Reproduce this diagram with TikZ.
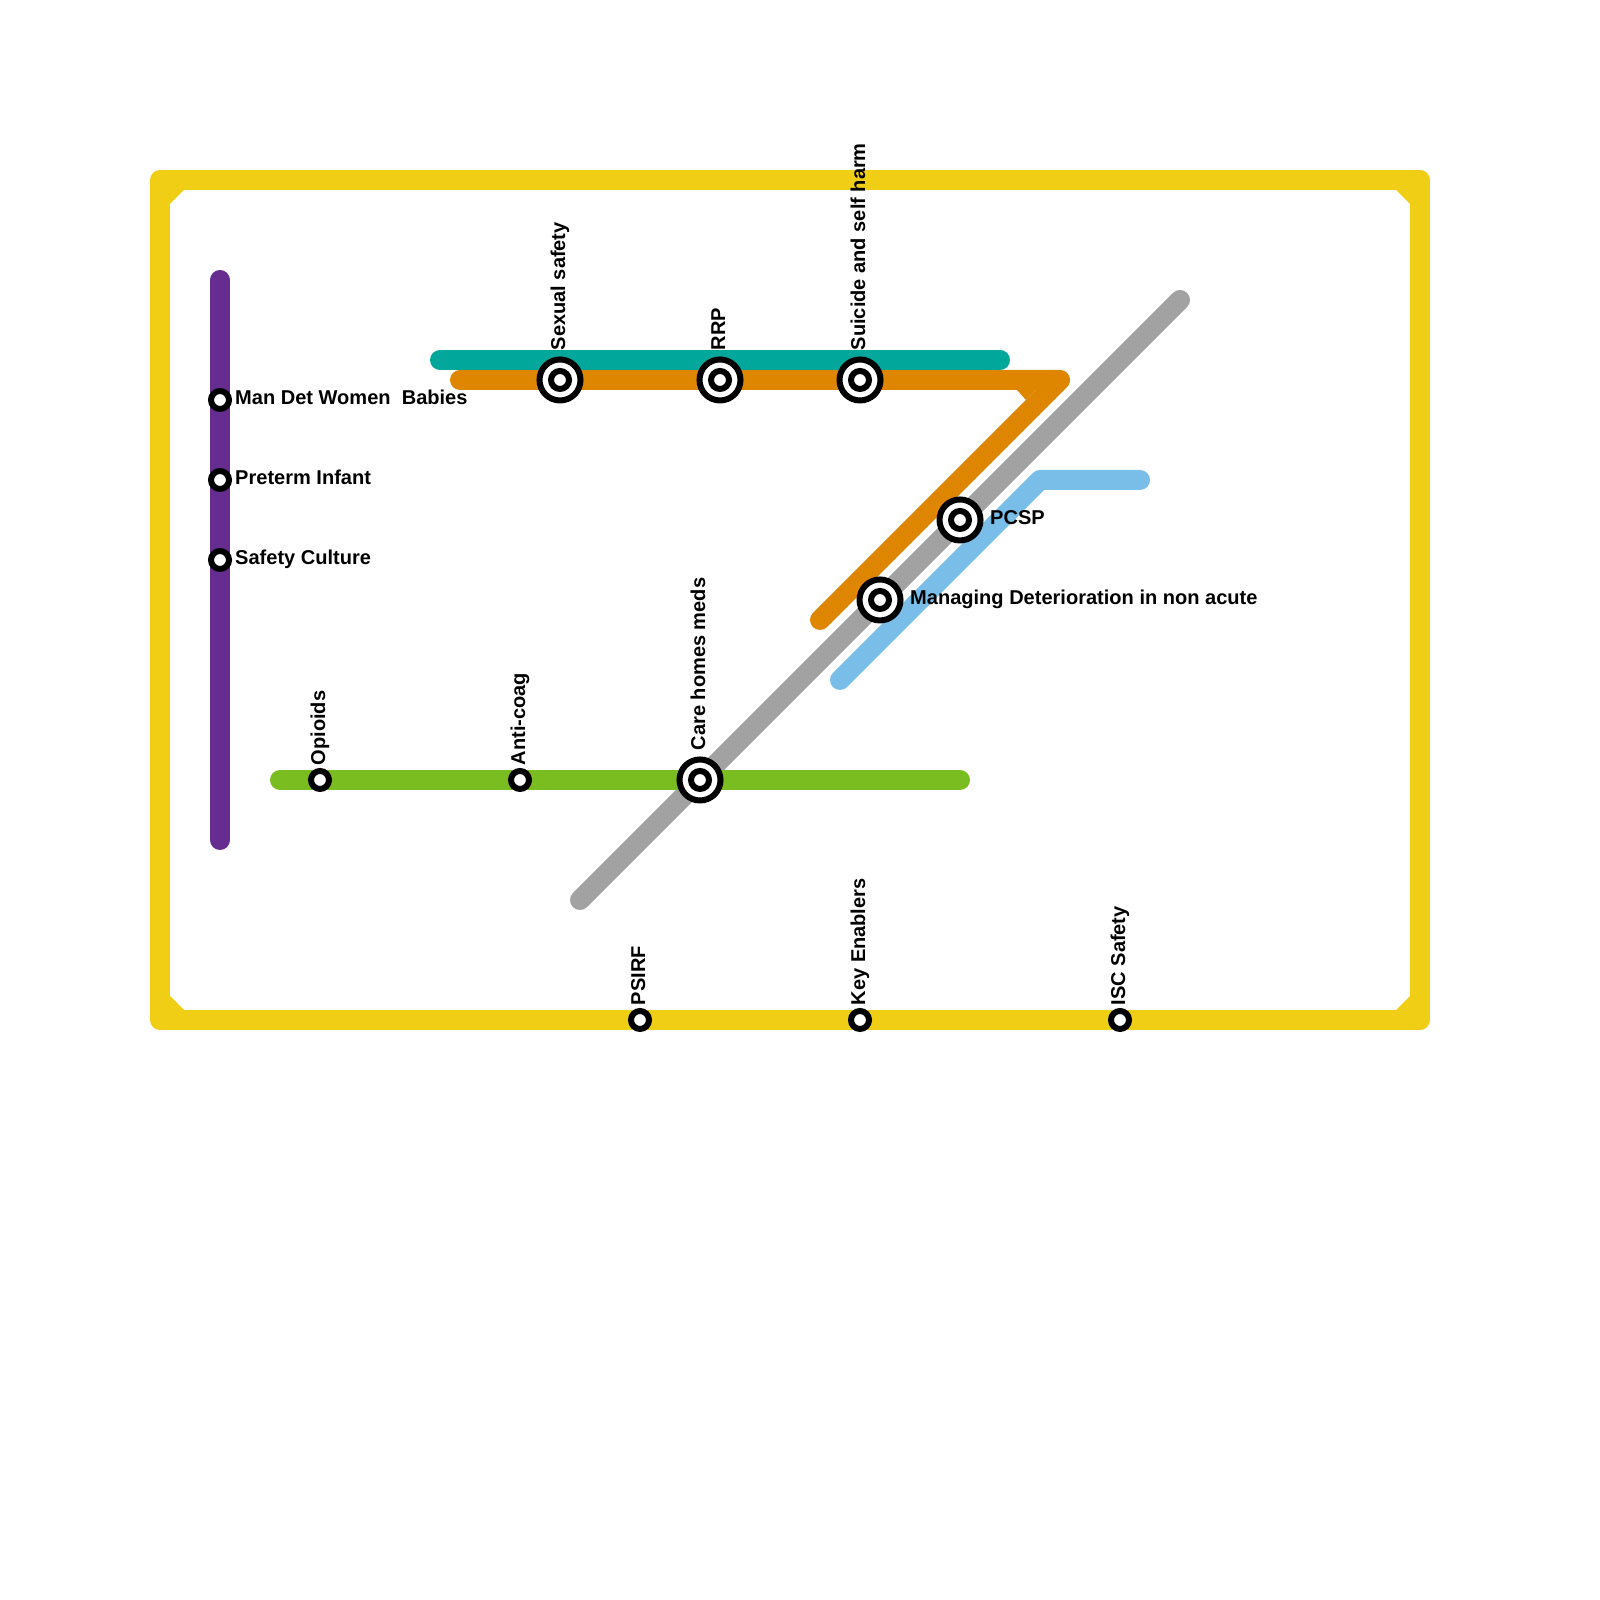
\documentclass[tikz,border=0pt]{standalone}
\usepackage{fontspec}
\setmainfont{Liberation Sans}
\definecolor{lineyellow}{HTML}{F0CE15}
\definecolor{linepurple}{HTML}{662C90}
\definecolor{lineteal}{HTML}{00A79A}
\definecolor{lineorange}{HTML}{DF8600}
\definecolor{linesilver}{HTML}{A2A2A2}
\definecolor{lineblue}{HTML}{79BDE9}
\definecolor{linegreen}{HTML}{7ABD20}
\begin{document}
\begin{tikzpicture}[font=\fontsize{5.7pt}{6.8pt}\bfseries,
  metro/.style={line width=.2cm,line cap=round,line join=round},
  halt/.style={circle,draw=black,fill=white,line width=.06cm,minimum size=.18cm,inner sep=0pt},
  hub/.style={circle,draw=black,fill=white,line width=.06cm,minimum size=.41cm,inner sep=0pt},
  sidelabel/.style={anchor=base west,inner sep=0pt},
  uplabel/.style={rotate=90,anchor=base west,inner sep=0pt}]
\useasboundingbox (0,0) rectangle (16,16);
\draw[metro,lineyellow] (1.6,14.2) rectangle (14.2,5.8);
\fill[lineyellow] (1.7,14.1) -- (1.7,13.96) -- (1.84,14.1) -- cycle;
\fill[lineyellow] (14.1,14.1) -- (14.1,13.96) -- (13.96,14.1) -- cycle;
\fill[lineyellow] (1.7,5.9) -- (1.7,6.04) -- (1.84,5.9) -- cycle;
\fill[lineyellow] (14.1,5.9) -- (14.1,6.04) -- (13.96,5.9) -- cycle;
\draw[metro,linepurple] (2.2,13.2) -- (2.2,7.6);
\draw[metro,linesilver] (5.8,7) -- (11.8,13);
\draw[metro,lineblue] (8.4,9.2) -- (10.4,11.2) -- (11.4,11.2);
\draw[metro,lineorange] (4.6,12.2) -- (10.6,12.2) -- (8.2,9.8);
\fill[lineorange] (10.17,12.1) -- (10.26,12) -- (10.36,12.1) -- cycle;
\draw[metro,lineteal] (4.4,12.4) -- (10,12.4);
\draw[metro,linegreen] (2.8,8.2) -- (9.6,8.2);
% small stops
\node[halt] (mandet) at (2.2,12) {};
\node[halt] (preterm) at (2.2,11.2) {};
\node[halt] (culture) at (2.2,10.4) {};
\node[halt] (opioids) at (3.2,8.2) {};
\node[halt] (anticoag) at (5.2,8.2) {};
\node[halt] (psirf) at (6.4,5.8) {};
\node[halt] (enablers) at (8.6,5.8) {};
\node[halt] (isc) at (11.2,5.8) {};
% interchanges
\node[hub] (sexual) at (5.6,12.2) {};
\node[halt] at (sexual) {};
\node[hub] (rrp) at (7.2,12.2) {};
\node[halt] at (rrp) {};
\node[hub] (suicide) at (8.6,12.2) {};
\node[halt] at (suicide) {};
\node[hub] (pcsp) at (9.6,10.8) {};
\node[halt] at (pcsp) {};
\node[hub] (managing) at (8.8,10) {};
\node[halt] at (managing) {};
\node[hub] (carehomes) at (7,8.2) {};
\node[halt] at (carehomes) {};
% labels
\node[sidelabel] at (2.345,11.95) {Man Det Women\ \ Babies};
\node[sidelabel] at (2.345,11.15) {Preterm Infant};
\node[sidelabel] at (2.345,10.35) {Safety Culture};
\node[sidelabel] at (9.895,10.75) {PCSP};
\node[sidelabel] at (9.095,9.95) {Managing Deterioration in non acute};
\node[uplabel] at (3.25,8.34) {Opioids};
\node[uplabel] at (5.25,8.34) {Anti-coag};
\node[uplabel] at (7.05,8.49) {Care homes meds};
\node[uplabel] at (5.65,12.49) {Sexual safety};
\node[uplabel] at (7.25,12.49) {RRP};
\node[uplabel] at (8.65,12.49) {Suicide and self harm};
\node[uplabel] at (6.45,5.94) {PSIRF};
\node[uplabel] at (8.65,5.94) {Key Enablers};
\node[uplabel] at (11.25,5.94) {ISC Safety};
\end{tikzpicture}
\end{document}
